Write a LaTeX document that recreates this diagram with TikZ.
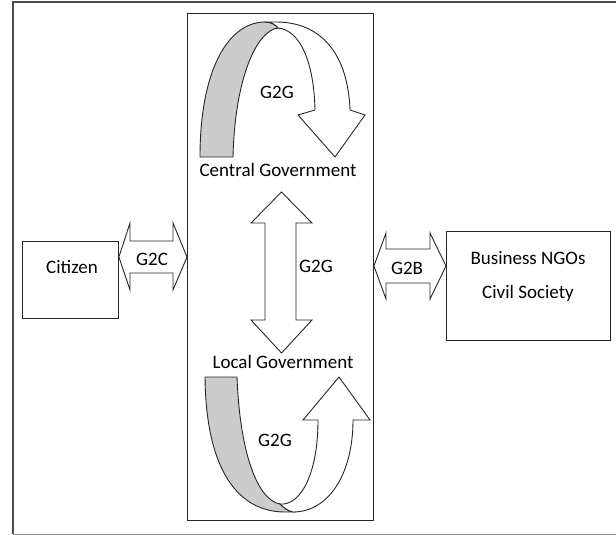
\documentclass[tikz,border=0pt]{standalone}
\usepackage{fontspec}
\setmainfont{Carlito}
\begin{document}
\begin{tikzpicture}[x=1pt,y=-1pt,
  ln/.style={draw=black!85,line width=0.9pt,line join=miter},
  lbl/.style={font=\fontsize{19}{22}\selectfont,inner sep=0pt},
  ribbon/.style={ln,fill=white},
  back/.style={ln,fill=black!20}]
\useasboundingbox (0,0) rectangle (616,535);
% outer frame (cropped)
\draw[draw=black!70,line width=1.3pt] (13,534) -- (13,2) -- (616,2);
\draw[draw=black!45,line width=1pt] (13,534) -- (616,534);
% central rectangle
\node[ln,minimum width=186pt,minimum height=507pt,inner sep=0pt,anchor=north west] (gov) at (187,13) {};
% Citizen box
\node[ln,minimum width=96pt,minimum height=77pt,inner sep=0pt,anchor=north west] (cit) at (22,241) {};
\node[lbl] (citt) at (72,267) {Citizen};
% Business box
\node[ln,minimum width=164pt,minimum height=109pt,inner sep=0pt,anchor=north west] (bus) at (446,231) {};
\node[lbl] (bus1) at (528,258) {Business NGOs};
\node[lbl] (bus2) at (528,293) {Civil Society};
% G2C double arrow
\draw[ribbon] (cit.east |- 0,257) -- (130,223) -- (130,241) -- (173,241) -- (173,223) -- (gov.west |- 0,257)
  -- (173,290) -- (173,273) -- (130,273) -- (130,290) -- cycle;
\node[lbl] (g2c) at (152,259) {G2C};
% G2B double arrow
\draw[ribbon] (gov.east |- 0,266) -- (386,233) -- (386,249) -- (430,249) -- (430,233) -- (bus.west |- 0,266)
  -- (430,299) -- (430,283) -- (386,283) -- (386,299) -- cycle;
\node[lbl] (g2b) at (407,268) {G2B};
% vertical double arrow
\draw[ribbon] (281.5,192) -- (312,223) -- (296,223) -- (296,320) -- (312,320) -- (281.5,353)
  -- (251,320) -- (265,320) -- (265,223) -- (251,223) -- cycle;
\node[lbl] (g2gm) at (316,266) {G2G};
% Government labels
\node[lbl] (cg) at (278,170) {Central Government};
\node[lbl] (lg) at (283,362) {Local Government};
% top curved arrow: back (gray) part
\draw[back] (200,157) .. controls (200,70) and (228,23) .. (264,22)
  .. controls (272,22) and (276,25) .. (278,28)
  .. controls (258,30) and (235,75) .. (233,157) -- cycle;
% front (white) part with head
\draw[ribbon] (264,22) -- (276,22) .. controls (322,22) and (348,55) .. (350,110)
  -- (365,115) -- (335,157) -- (298,115) -- (315,110)
  .. controls (314,62) and (300,30) .. (278,28)
  .. controls (276,25) and (272,22) .. (264,22) -- cycle;
\node[lbl] (g2gt) at (277,92) {G2G};
% bottom curved arrow: back (gray) part
\draw[back] (205,377) -- (237,377) .. controls (240,455) and (258,500) .. (280,504)
  .. controls (284,508) and (288,511) .. (293,512) -- (285,512)
  .. controls (238,512) and (206,470) .. (205,377) -- cycle;
% front (white) part with head
\draw[ribbon] (280,504) .. controls (300,506) and (318,475) .. (318,420)
  -- (303,420) -- (339,377) -- (370,420) -- (353,420)
  .. controls (353,475) and (328,512) .. (293,512)
  .. controls (288,511) and (284,508) .. (280,504) -- cycle;
\node[lbl] (g2gb) at (275,440) {G2G};
\end{tikzpicture}
\end{document}
